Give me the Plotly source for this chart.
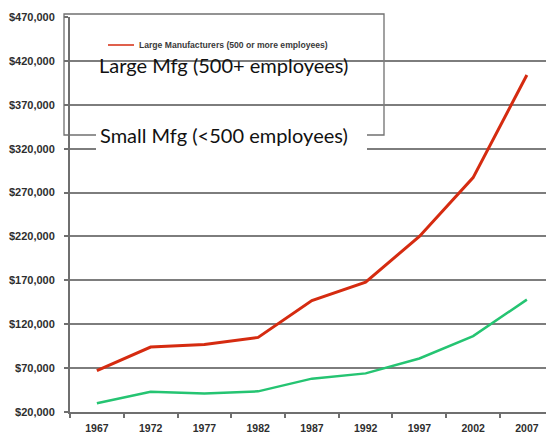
import plotly.graph_objects as go

# Average value of shipments per employee, by establishment size
years = ["1967", "1972", "1977", "1982", "1987", "1992", "1997", "2002", "2007"]
large_mfg = [67000, 94000, 97000, 105000, 147000, 168000, 220000, 287000, 404000]
small_mfg = [30000, 43000, 41000, 43500, 58000, 64000, 81000, 106500, 148000]

y_ticks = [20000, 70000, 120000, 170000, 220000, 270000, 320000, 370000, 420000, 470000]
y_labels = ["${:,}".format(v) for v in y_ticks]

RED = "#d52b10"
GREEN = "#25c472"
AXIS = "#6f6f6f"
GRID = "#7d7d7d"
LABEL_FONT = dict(family="Liberation Sans, Arial, sans-serif", color="#2e2e2e", weight="bold")

fig = go.Figure()
fig.add_trace(go.Scatter(x=years, y=large_mfg, mode="lines",
                         line=dict(color=RED, width=3), showlegend=False))
fig.add_trace(go.Scatter(x=years, y=small_mfg, mode="lines",
                         line=dict(color=GREEN, width=2.5), showlegend=False))

W, H = 546, 442
ML, MR, MT, MB = 70, 0, 17, 30
PW, PH = W - ML - MR, H - MT - MB


def px(x):
    return (x - ML) / PW


def py(y):
    return (H - MB - y) / PH


fig.update_layout(
    width=W, height=H,
    margin=dict(l=ML, r=MR, t=MT, b=MB, pad=0),
    paper_bgcolor="white", plot_bgcolor="white",
    xaxis=dict(
        type="category", range=[-0.5, 8.356], tickson="boundaries",
        ticks="outside", ticklen=4, tickwidth=1.5, tickcolor=AXIS,
        showgrid=False, showline=True, linecolor=AXIS, linewidth=2,
        tickfont=dict(size=10.5, **LABEL_FONT), ticklabelstandoff=5,
        fixedrange=True,
    ),
    yaxis=dict(
        range=[20000, 470000], tickvals=y_ticks, ticktext=y_labels,
        ticks="outside", ticklen=4, tickwidth=1.5, tickcolor=AXIS,
        showgrid=True, gridcolor=GRID, gridwidth=1.5,
        showline=True, linecolor=AXIS, linewidth=2, zeroline=False,
        tickfont=dict(size=11, **LABEL_FONT), ticklabelstandoff=7,
        fixedrange=True,
    ),
)

# Legend panel (sits over the gridlines, under the axis line)
fig.add_shape(type="rect", xref="paper", yref="paper", layer="between",
              x0=px(64), x1=px(384), y0=py(135), y1=py(14),
              fillcolor="white", line=dict(color="#707070", width=1.3))
fig.add_shape(type="line", xref="paper", yref="paper", layer="above",
              x0=px(108), x1=px(134), y0=py(45), y1=py(45),
              line=dict(color=RED, width=1.5))
fig.add_annotation(xref="paper", yref="paper", x=px(137), y=py(45),
                   xanchor="left", yanchor="middle", showarrow=False,
                   text="Large Manufacturers (500 or more employees)",
                   font=dict(family="Liberation Sans, Arial, sans-serif",
                             size=8.6, color="#3a3a3a", weight="bold"))

# Series captions
fig.add_shape(type="rect", xref="paper", yref="paper", layer="above",
              x0=px(96), x1=px(367), y0=py(152), y1=py(122),
              fillcolor="white", line=dict(width=0))
fig.add_annotation(xref="paper", yref="paper", x=px(223.5), y=py(65),
                   xanchor="center", yanchor="middle", showarrow=False,
                   text="Large Mfg (500+ employees)",
                   font=dict(family="Lato", size=20, color="#111111"))
fig.add_annotation(xref="paper", yref="paper", x=px(223.5), y=py(135),
                   xanchor="center", yanchor="middle", showarrow=False,
                   text="Small Mfg (<500 employees)",
                   font=dict(family="Lato", size=20, color="#111111"))

fig.write_html("out.html")
